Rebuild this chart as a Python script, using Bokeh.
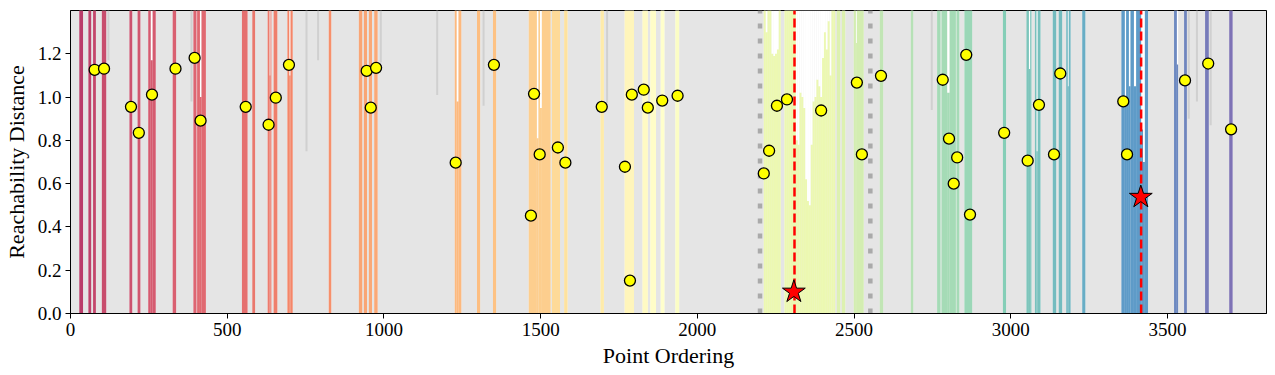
import numpy as np
from bokeh.plotting import figure
from bokeh.models import Range1d, FixedTicker, PrintfTickFormatter
from bokeh.embed import file_html
from bokeh.resources import INLINE

N_POINTS = 3816
Y_MAX = 1.4
N_CLUSTER_STEPS = 100

# ---- cluster spans (point-ordering left/right edge, reachability top, cluster colour id) ----
span_left = [28, 57, 72, 100, 188, 214, 248, 256, 262, 326, 392, 404, 413, 418,
             547, 580, 629, 635, 638, 648, 692, 698, 702, 824,
             920, 936, 952, 969,
             1226, 1232, 1238, 1297, 1348,
             1462, 1488, 1493, 1498, 1504, 1536, 1575, 1691, 1768, 1825, 1850, 1883, 1930,
             2445, 2461, 2499, 2506, 2509, 2582, 2681,
             2765, 2779, 2797, 2805, 2827, 2852,
             2975, 3050, 3058, 3062, 3077, 3082, 3086, 3134, 3153, 3177, 3182, 3185, 3228,
             3353, 3364, 3368, 3377, 3382, 3393, 3400, 3416, 3422, 3428,
             3521, 3530, 3553, 3620, 3697]
span_right = [40, 66, 81, 114, 197, 223, 256, 262, 272, 337, 402, 413, 418, 432,
              565, 589, 635, 638, 641, 660, 698, 702, 709, 832,
              931, 946, 962, 980,
              1232, 1238, 1247, 1307, 1358,
              1488, 1493, 1498, 1504, 1532, 1562, 1586, 1702, 1798, 1842, 1868, 1895, 1942,
              2456, 2472, 2506, 2509, 2531, 2593, 2689,
              2776, 2797, 2805, 2825, 2836, 2877,
              2985, 3058, 3062, 3066, 3082, 3086, 3095, 3145, 3164, 3182, 3185, 3191, 3238,
              3364, 3368, 3377, 3382, 3393, 3400, 3416, 3422, 3428, 3438,
              3530, 3534, 3562, 3632, 3708]
span_reach = [1.4, 1.4, 1.4, 1.4, 1.4, 1.4, 1.4, 1.17, 1.4, 1.4, 1.4, 1.4, 1.0, 1.4,
              1.4, 1.4, 1.4, 1.1, 1.4, 1.4, 1.4, 1.1, 1.4, 1.4,
              1.4, 1.4, 1.4, 1.4,
              1.4, 0.98, 1.4, 1.4, 1.4,
              1.4, 0.81, 1.4, 0.95, 1.4, 1.4, 1.4, 1.4, 1.4, 1.4, 1.4, 1.4, 1.4,
              1.4, 1.4, 1.4, 1.25, 1.4, 1.4, 1.4,
              1.4, 1.4, 1.02, 1.4, 1.4, 1.4,
              1.4, 1.4, 1.13, 1.4, 1.4, 0.75, 1.4, 1.4, 1.4, 1.4, 1.05, 1.4, 1.4,
              1.4, 1.0, 1.4, 1.05, 1.4, 1.05, 1.4, 0.85, 0.7, 1.4,
              1.4, 1.15, 1.4, 1.4, 1.4]
span_cluster = [2, 3, 4, 5, 6, 7, 8, 8, 8, 9, 10, 11, 11, 11,
                13, 15, 16, 16, 16, 17, 19, 19, 19, 21,
                25, 25, 26, 26,
                29, 29, 29, 30, 31,
                34, 34, 34, 34, 34, 37, 39, 42, 46, 48, 49, 50, 52,
                63, 63, 65, 65, 65, 69, 71,
                74, 74, 74, 74, 74, 76,
                80, 82, 82, 82, 83, 83, 83, 84, 84, 85, 85, 85, 87,
                91, 91, 91, 91, 91, 91, 91, 91, 91, 91,
                95, 95, 96, 98, 100]

# ---- detailed reachability of the large yellow-green cluster ----
prof_cluster = 60
prof_x = [2215, 2221, 2227, 2233, 2239, 2245, 2251, 2257, 2263, 2281, 2287, 2293,
          2299, 2305, 2311, 2317, 2323, 2329, 2335, 2341, 2347, 2353, 2359, 2365,
          2371, 2377, 2383, 2389, 2395, 2401, 2407, 2413, 2419, 2425, 2431, 2437]
prof_reach = [1.40, 1.30, 1.40, 1.40, 1.20, 1.19, 1.20, 1.22, 1.40, 1.40, 1.40, 1.40,
              1.40, 1.40, 1.40, 0.80, 0.78, 1.02, 1.00, 0.95, 0.62, 0.52, 0.50, 0.78,
              0.98, 1.00, 1.08, 1.05, 1.00, 1.18, 1.30, 1.22, 1.35, 1.10, 1.40, 1.40]

# ---- noise points with finite reachability (darker grey streaks) ----
noise_x = [121, 386, 753, 790, 990, 1170, 1318, 1712, 2748, 3568, 3594, 3638]
noise_reach = [1.17, 0.98, 0.75, 1.17, 1.16, 1.01, 0.96, 0.97, 0.94, 0.90, 0.98, 0.87]

# ---- highlighted points (yellow) ----
sel_x = [77, 107, 193, 218, 260, 335, 396, 415, 559, 632, 655, 697, 945, 975, 958,
         1229, 1351, 1479, 1469, 1497, 1555, 1579, 1695, 1769, 1791, 1829, 1842, 1888, 1937, 1785,
         2212, 2229, 2254, 2286, 2395,
         2509, 2586, 2525, 2783, 2858, 2803, 2829, 2818, 2870, 2979, 3054, 3090, 3138, 3158,
         3359, 3371, 3556, 3630, 3703]
sel_y = [1.126, 1.131, 0.955, 0.835, 1.011, 1.131, 1.181, 0.891, 0.955, 0.872, 0.997, 1.149, 1.121, 1.135, 0.951,
         0.697, 1.149, 1.015, 0.452, 0.735, 0.767, 0.697, 0.955, 0.678, 1.011, 1.034, 0.951, 0.984, 1.006, 0.152,
         0.647, 0.752, 0.960, 0.989, 0.938,
         1.067, 1.098, 0.735, 1.080, 1.195, 0.808, 0.721, 0.600, 0.457, 0.835, 0.706, 0.964, 0.735, 1.109,
         0.980, 0.735, 1.077, 1.155, 0.851]

# ---- query points (stars), cut lines and window bounds ----
star_x = [2308, 3415]
star_y = [0.10, 0.538]
cut_x = [2310, 3416]
bound_x = [2200, 2552]

x_ticks = [0, 500, 1000, 1500, 2000, 2500, 3000, 3500]
y_ticks = [0.0, 0.2, 0.4, 0.6, 0.8, 1.0, 1.2]

SPECTRAL = ['#9e0142', '#d53e4f', '#f46d43', '#fdae61', '#fee08b', '#ffffbf',
            '#e6f598', '#abdda4', '#66c2a5', '#3288bd', '#5e4fa2']


def spectral(t):
    t = min(max(t, 0.0), 1.0) * (len(SPECTRAL) - 1)
    i = min(int(t), len(SPECTRAL) - 2)
    f = t - i
    a = SPECTRAL[i]
    b = SPECTRAL[i + 1]
    ca = [int(a[k:k + 2], 16) for k in (1, 3, 5)]
    cb = [int(b[k:k + 2], 16) for k in (1, 3, 5)]
    c = [round(ca[j] + (cb[j] - ca[j]) * f) for j in range(3)]
    return "#%02x%02x%02x" % tuple(c)


p = figure(width=1275, height=375, output_backend="svg", toolbar_location=None,
           x_range=Range1d(0, N_POINTS), y_range=Range1d(0, Y_MAX),
           min_border_left=70, min_border_right=9, min_border_top=10, min_border_bottom=62)
p.background_fill_color = "#e5e5e5"
p.border_fill_color = "white"
p.outline_line_color = "black"
p.outline_line_width = 1
p.xgrid.visible = False
p.ygrid.visible = False

# cluster spans
sl = np.array(span_left, float)
sr = np.array(span_right, float)
sc = (sl + sr) / 2
sw = sr - sl
scol = [spectral(c / N_CLUSTER_STEPS) for c in span_cluster]
p.vbar(x=sc, width=sw, bottom=0, top=Y_MAX, fill_color="white", line_color=None)
p.vbar(x=sc, width=sw, bottom=0, top=span_reach, fill_color=scol, fill_alpha=0.8, line_color=None)

px_ = np.array(prof_x, float)
pcol = spectral(prof_cluster / N_CLUSTER_STEPS)
p.vbar(x=px_, width=6.2, bottom=0, top=Y_MAX, fill_color="white", line_color=None)
p.vbar(x=px_, width=6.2, bottom=0, top=prof_reach, fill_color=pcol, fill_alpha=0.75, line_color=None)

# noise streaks
p.segment(x0=noise_x, y0=noise_reach, x1=noise_x, y1=[Y_MAX] * len(noise_x),
          line_color="#d0d0d0", line_width=2)

# bounds and cuts
p.segment(x0=bound_x, y0=[0] * len(bound_x), x1=bound_x, y1=[Y_MAX] * len(bound_x),
          line_color="#aaaaaa", line_width=4.5, line_dash="5 10")
p.segment(x0=cut_x, y0=[0] * len(cut_x), x1=cut_x, y1=[Y_MAX] * len(cut_x),
          line_color="red", line_width=2.5, line_dash="9 4")

p.scatter(x=sel_x, y=sel_y, size=11, fill_color="yellow", line_color="black", line_width=1.3)
p.scatter(x=star_x, y=star_y, marker="star", size=24, fill_color="red", line_color="black", line_width=1)

for ax in (p.xaxis[0], p.yaxis[0]):
    ax.axis_line_color = "black"
    ax.major_tick_line_color = "black"
    ax.major_tick_out = 5
    ax.major_tick_in = 0
    ax.minor_tick_line_color = None
    ax.major_label_text_font = "Liberation Serif"
    ax.major_label_text_font_size = "19px"
    ax.major_label_text_color = "black"
    ax.axis_label_text_font = "Liberation Serif"
    ax.axis_label_text_font_size = "22px"
    ax.axis_label_text_font_style = "normal"
    ax.axis_label_text_color = "black"
    ax.major_label_standoff = 4

p.xaxis.ticker = FixedTicker(ticks=x_ticks)
p.yaxis.ticker = FixedTicker(ticks=y_ticks)
p.xaxis.formatter = PrintfTickFormatter(format="%d")
p.yaxis.formatter = PrintfTickFormatter(format="%.1f")
p.xaxis.axis_label = "Point Ordering"
p.yaxis.axis_label = "Reachability Distance"
p.xaxis.axis_label_standoff = 4
p.yaxis.axis_label_standoff = 6

open("out.html", "w").write(file_html(p, INLINE))
